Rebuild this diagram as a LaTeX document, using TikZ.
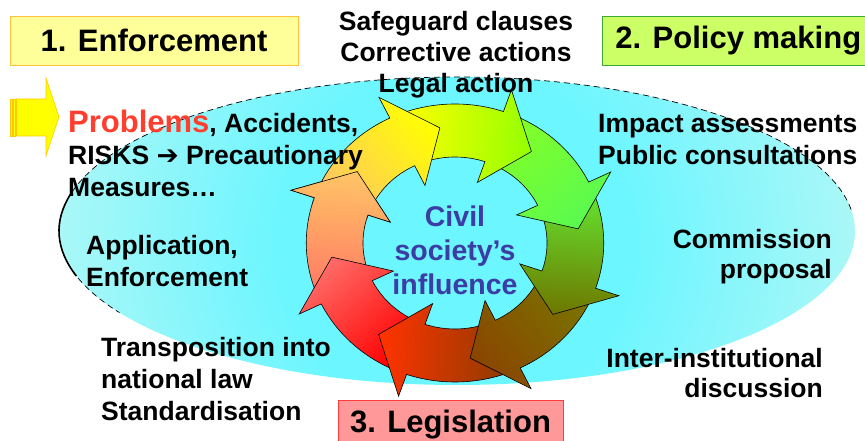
\documentclass[tikz,border=0pt]{standalone}
\usepackage{fontspec}
\setmainfont{Liberation Sans}
\newfontfamily\arrowfont{DejaVu Sans}

\definecolor{boxYellow}{RGB}{255,255,153}
\definecolor{boxYellowLine}{RGB}{255,190,60}
\definecolor{boxGreen}{RGB}{204,255,102}
\definecolor{boxGreenLine}{RGB}{60,170,50}
\definecolor{boxRed}{RGB}{255,153,153}
\definecolor{boxRedLine}{RGB}{255,60,60}
\definecolor{ellIn}{RGB}{108,246,255}
\definecolor{ellOut}{RGB}{184,247,245}
\definecolor{textRed}{RGB}{255,62,46}
\definecolor{textBlue}{RGB}{60,60,165}
\definecolor{ringApricot}{RGB}{255,200,96}
\definecolor{ringYellow}{RGB}{255,255,0}
\definecolor{ringLime}{RGB}{150,255,0}
\definecolor{ringGreen}{RGB}{130,255,40}
\definecolor{ringLeaf}{RGB}{90,250,80}
\definecolor{ringGrass}{RGB}{100,230,50}
\definecolor{ringOlive}{RGB}{110,120,0}
\definecolor{ringMud}{RGB}{122,115,0}
\definecolor{ringBrown}{RGB}{138,70,0}
\definecolor{ringRust}{RGB}{140,60,0}
\definecolor{ringFire}{RGB}{255,51,0}
\definecolor{ringRed}{RGB}{255,0,0}
\definecolor{ringPink}{RGB}{255,106,102}
\definecolor{ringSalmon}{RGB}{255,120,100}
\definecolor{ringPeach}{RGB}{255,196,102}
\definecolor{arrowYellow}{RGB}{255,255,0}
\definecolor{arrowLine}{RGB}{255,200,0}

\pgfdeclareradialshading{ellGlow}{\pgfpoint{0bp}{0bp}}{color(0bp)=(ellIn);
  color(11bp)=(ellIn); color(28bp)=(ellOut); color(50bp)=(ellOut)}

% one curved arrow of the ring: #1 = angle of the head base
\newcommand{\ringArrow}[3]{%
  \pgfmathsetmacro\tailAng{#1+42}%
  \pgfmathsetmacro\tipAng{#1-19}%
  \pgfmathsetmacro\shadeAng{#1-165}%
  \shadedraw[bottom color=#2, top color=#3, shading angle=\shadeAng]
    (\tailAng:139) arc[start angle=\tailAng, end angle=#1, radius=139]
    -- (#1:162) -- (\tipAng:116) -- (#1:64) -- (#1:86)
    arc[start angle=#1, end angle=\tailAng, radius=86] -- cycle;}

\begin{document}
\begin{tikzpicture}
[x=1pt, y=1pt,
 every node/.style={align=center, inner sep=0pt,
   font=\bfseries\fontsize{26.5}{31}\selectfont},
 nodeStage/.style={draw, line width=0.8pt, minimum height=49pt,
   font=\bfseries\fontsize{31}{33}\selectfont},
 ringLine/.style={draw=black, line width=0.6pt},
 arrowStripe/.style={fill=arrowYellow, draw=arrowLine, line width=0.6pt}
]
\useasboundingbox (0,0) rectangle (865,441);
\clip (0,0) rectangle (865,441);
% background ellipse
\begin{scope}
\clip (457,210) ellipse [x radius=398, y radius=154];
\shade[shading=ellGlow] (455,198) circle (400);
\end{scope}
\draw[dash pattern=on 6pt off 4pt, line width=0.7pt]
  ([shift={(8:398 and 154)}]457,210)
  arc[start angle=8, end angle=212, x radius=398, y radius=154];
\draw[line width=1.6pt] ([shift={(166:398 and 154)}]457,210)
  arc[start angle=166, end angle=197, x radius=398, y radius=154];
% ring of arrows
\begin{scope}[shift={(455,198)}, xscale=1.07, ringLine]
\ringArrow{161}{ringSalmon}{ringPeach}
\ringArrow{-154}{ringRed}{ringPink}
\ringArrow{-109}{ringRust}{ringFire}
\ringArrow{-64}{ringMud}{ringBrown}
\ringArrow{-19}{ringGrass}{ringOlive}
\ringArrow{26}{ringGreen}{ringLeaf}
\ringArrow{71}{ringYellow}{ringLime}
\ringArrow{116}{ringApricot}{ringYellow}
\begin{scope}
\clip (0,0) -- (164:220) -- (138:220) -- cycle;
\ringArrow{161}{ringSalmon}{ringPeach}
\end{scope}
\end{scope}
% striped arrow
\draw[arrowStripe] (10,305) rectangle (12,342);
\draw[arrowStripe] (13.5,305) rectangle (15,342);
\draw[arrowStripe] (16.5,305) -- (46,305) -- (46,285) -- (59,324)
  -- (46,363) -- (46,342) -- (16.5,342) -- cycle;
% stages
\node[nodeStage, fill=boxYellow, draw=boxYellowLine, minimum width=288pt]
  (enforce) at (154,400.5) {1. Enforcement};
\node[nodeStage, fill=boxGreen, draw=boxGreenLine, anchor=west,
  inner xsep=13pt] (policy) at (602,400.5) {2. Policy making};
\node[nodeStage, fill=boxRed, draw=boxRedLine, minimum width=225pt]
  (legis) at (450.5,16.5) {3. Legislation};
% texts (base = last line)
\node[anchor=base] (safeguard) at (456,348)
  {Safeguard clauses\\Corrective actions\\Legal action};
\node[anchor=base west, align=left,
  font=\bfseries\fontsize{26.5}{32}\selectfont] (impact) at (598,276)
  {Impact assessments\\Public consultations};
\node[anchor=base east, align=right,
  font=\bfseries\fontsize{26.5}{30}\selectfont] (proposal) at (832,162)
  {Commission\\proposal};
\node[anchor=base east, align=right,
  font=\bfseries\fontsize{26.5}{30}\selectfont] (discussion) at (823,43)
  {Inter-institutional\\discussion};
\node[anchor=base west, align=left,
  font=\bfseries\fontsize{26.5}{32}\selectfont] (application) at (86,154)
  {Application,\\Enforcement};
\node[anchor=base west, align=left,
  font=\bfseries\fontsize{26.5}{32}\selectfont] (transposition) at (101,20)
  {Transposition into\\national law\\Standardisation};
\node[anchor=base west, align=left,
  font=\bfseries\fontsize{26.5}{32}\selectfont] (problems) at (68,244)
  {{\color{textRed}\fontsize{31}{32}\selectfont Problems}, Accidents,\\
   RISKS {\arrowfont ➔} Precautionary\\Measures…};
\node[anchor=base, text=textBlue,
  font=\bfseries\fontsize{28.5}{34}\selectfont] (influence) at (455,146)
  {Civil\\society’s\\influence};
\end{tikzpicture}
\end{document}
